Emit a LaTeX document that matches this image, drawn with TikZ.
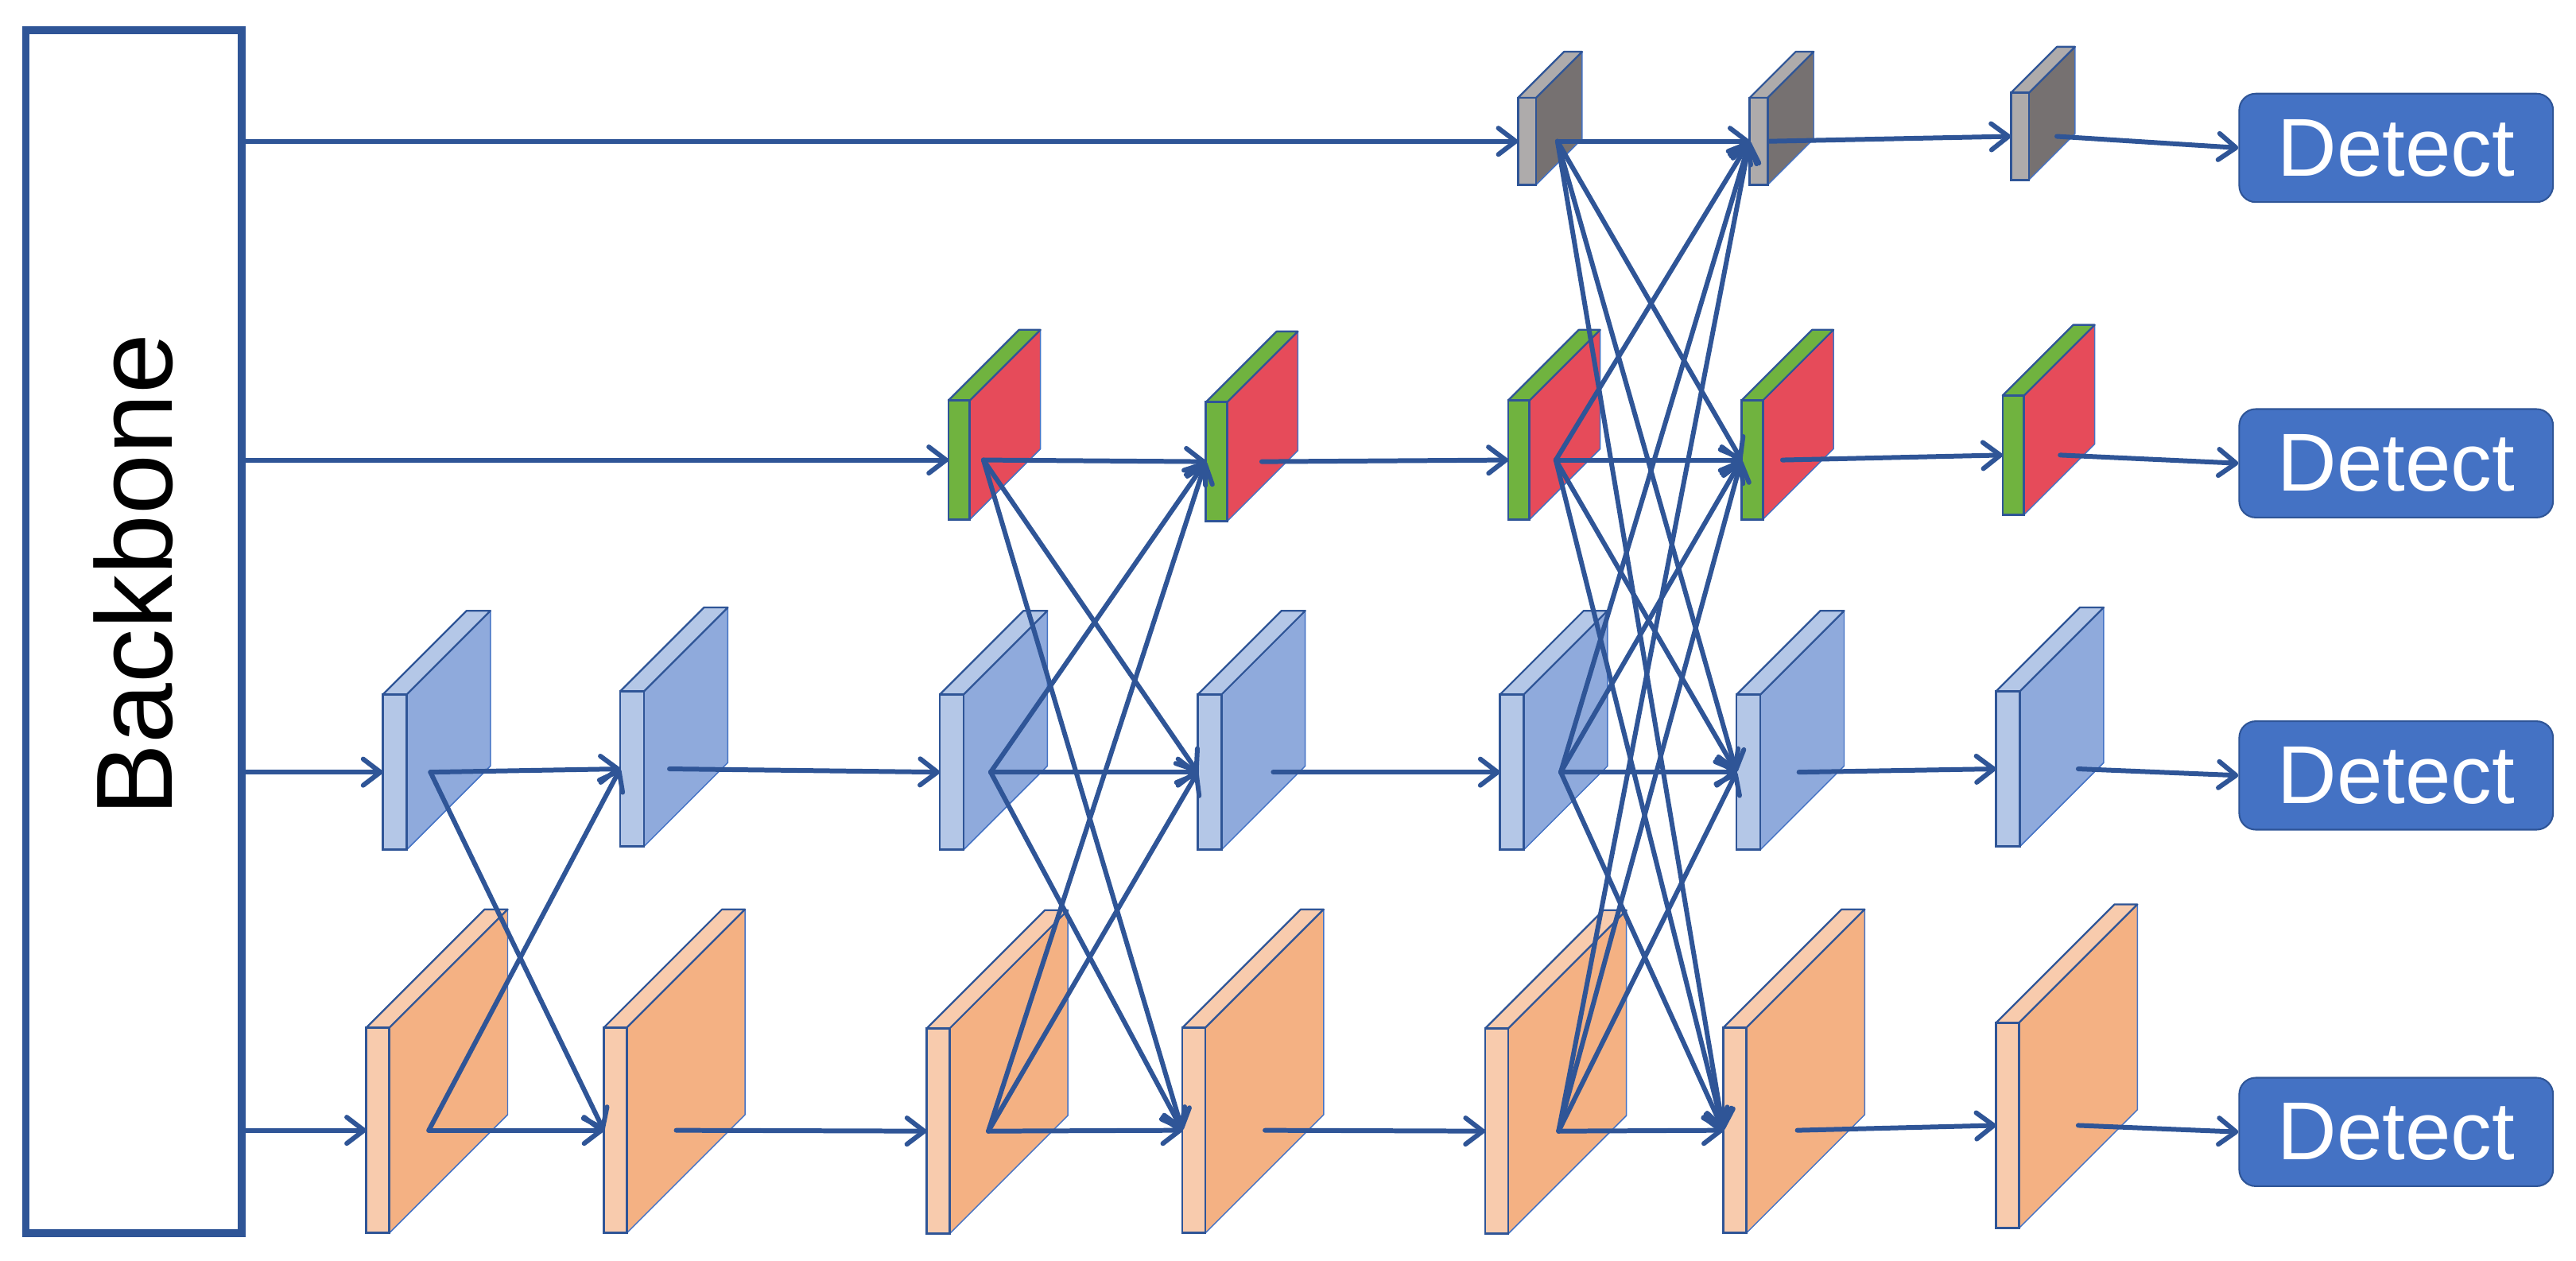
\documentclass[tikz,border=0pt]{standalone}
\usepackage{fontspec}
\setmainfont{Liberation Sans}
\usetikzlibrary{arrows.meta}
\definecolor{lc}{HTML}{2F5597}
\definecolor{ec}{HTML}{4472C4}
\definecolor{gfront}{HTML}{AEABAB}
\definecolor{gtop}{HTML}{AEABAB}
\definecolor{gside}{HTML}{767171}
\definecolor{rfront}{HTML}{70B33F}
\definecolor{rtop}{HTML}{70B33F}
\definecolor{rside}{HTML}{E64B5A}
\definecolor{bfront}{HTML}{B4C7E7}
\definecolor{btop}{HTML}{B4C7E7}
\definecolor{bside}{HTML}{8FAADC}
\definecolor{ofront}{HTML}{F8CBAD}
\definecolor{otop}{HTML}{F8CBAD}
\definecolor{oside}{HTML}{F4B183}
\definecolor{detfill}{HTML}{4472C4}
% #1 name, #2 front-left x, #3 centre y, #4 out x, #5 front width, #6 front height, #7 depth, #8 scheme
\newcommand\fmblock[8]{%
  \path[fill=#8side, draw=ec, line width=0.7pt, line join=round]
    ({#2+#5},{#3-#6/2}) -- ++(#7,-#7) -- ++(0,#6) -- ++(-#7,#7) -- cycle;
  \path[fill=#8top, draw=lc, line width=1.1pt, line join=round]
    (#2,{#3-#6/2}) -- ++(#7,-#7) -- ++(#5,0) -- ++(-#7,#7) -- cycle;
  \path[fill=#8front, draw=lc, line width=1.3pt] (#2,{#3-#6/2}) rectangle ++(#5,#6);
  \coordinate (#1-in) at (#2,#3);
  \coordinate (#1-out) at (#4,#3);
}
\tikzset{
  conn/.style={draw=lc, line width=2.9pt, line cap=round,
    -{Straight Barb[length=10.5pt,width=16pt,round]}},
  detect/.style={rounded corners=10pt, fill=detfill, draw=lc, line width=1pt,
    minimum width=191pt, minimum height=66pt, inner sep=0pt, text=white,
    font=\fontsize{50}{60}\selectfont},
}
\begin{document}
\begin{tikzpicture}[x=1pt,y=-1pt]
\useasboundingbox (0,0) rectangle (1568,767.5);
\fill[white] (0,0) rectangle (1568,767.5);

% Backbone
\node[draw=lc, line width=4.6pt, minimum width=131.3pt, minimum height=732pt, inner sep=0pt] (bb) at (81.35,384.5) {};
\node[rotate=90, inner sep=0pt, font=\fontsize{66}{79}\selectfont] (bbt) at (81,350) {Backbone};

% gray row
\fmblock{G5}{924}{86}{948}{11}{53}{28}{g}
\fmblock{G6}{1065}{86}{1077}{11}{53}{28}{g}
\fmblock{G7}{1224}{83}{1252}{11}{53}{28}{g}
% red row
\fmblock{R3}{577.3}{280}{598.6}{13}{72.5}{43}{r}
\fmblock{R4}{734}{281}{768}{13}{72.5}{43}{r}
\fmblock{R5}{918}{280}{947}{13}{72.5}{43}{r}
\fmblock{R6}{1060}{280}{1085}{13}{72.5}{43}{r}
\fmblock{R7}{1219}{277}{1254}{13}{72.5}{43}{r}
% blue row
\fmblock{B1}{233}{470}{262}{14.5}{94.5}{51}{b}
\fmblock{B2}{377.5}{468}{407.5}{14.5}{94.5}{51}{b}
\fmblock{B3}{572}{470}{603}{14.5}{94.5}{51}{b}
\fmblock{B4}{729}{470}{775}{14.5}{94.5}{51}{b}
\fmblock{B5}{913}{470}{950}{14.5}{94.5}{51}{b}
\fmblock{B6}{1057}{470}{1095}{14.5}{94.5}{51}{b}
\fmblock{B7}{1215}{468}{1265}{14.5}{94.5}{51}{b}
% orange row
\fmblock{O1}{223}{688}{261}{14}{125}{72}{o}
\fmblock{O2}{367.5}{688}{411.6}{14}{125}{72}{o}
\fmblock{O3}{564}{688.5}{601.6}{14}{125}{72}{o}
\fmblock{O4}{719.7}{688}{770}{14}{125}{72}{o}
\fmblock{O5}{904}{688.5}{948.7}{14}{125}{72}{o}
\fmblock{O6}{1049}{688}{1094}{14}{125}{72}{o}
\fmblock{O7}{1215}{685}{1265}{14}{125}{72}{o}

% Detect boxes
\node[detect] (DG) at (1458.5,90) {Detect};
\node[detect] (DR) at (1458.5,282) {Detect};
\node[detect] (DB) at (1458.5,472) {Detect};
\node[detect] (DO) at (1458.5,689) {Detect};

% backbone outputs
\draw[conn] (bb.east |- G5-in) -- (G5-in);
\draw[conn] (bb.east |- R3-in) -- (R3-in);
\draw[conn] (bb.east |- B1-in) -- (B1-in);
\draw[conn] (bb.east |- O1-in) -- (O1-in);

% stage 1
\foreach \s in {B1,O1} \foreach \t in {B2,O2} \draw[conn] (\s-out) -- (\t-in);
\draw[conn] (B2-out) -- (B3-in);
\draw[conn] (O2-out) -- (O3-in);
% stage 2
\foreach \s in {R3,B3,O3} \foreach \t in {R4,B4,O4} \draw[conn] (\s-out) -- (\t-in);
\draw[conn] (R4-out) -- (R5-in);
\draw[conn] (B4-out) -- (B5-in);
\draw[conn] (O4-out) -- (O5-in);
% stage 3
\foreach \s in {G5,R5,B5,O5} \foreach \t in {G6,R6,B6,O6} \draw[conn] (\s-out) -- (\t-in);
\draw[conn] (G6-out) -- (G7-in);
\draw[conn] (R6-out) -- (R7-in);
\draw[conn] (B6-out) -- (B7-in);
\draw[conn] (O6-out) -- (O7-in);
% to detect
\draw[conn] (G7-out) -- (DG.west);
\draw[conn] (R7-out) -- (DR.west);
\draw[conn] (B7-out) -- (DB.west);
\draw[conn] (O7-out) -- (DO.west);
\end{tikzpicture}
\end{document}
